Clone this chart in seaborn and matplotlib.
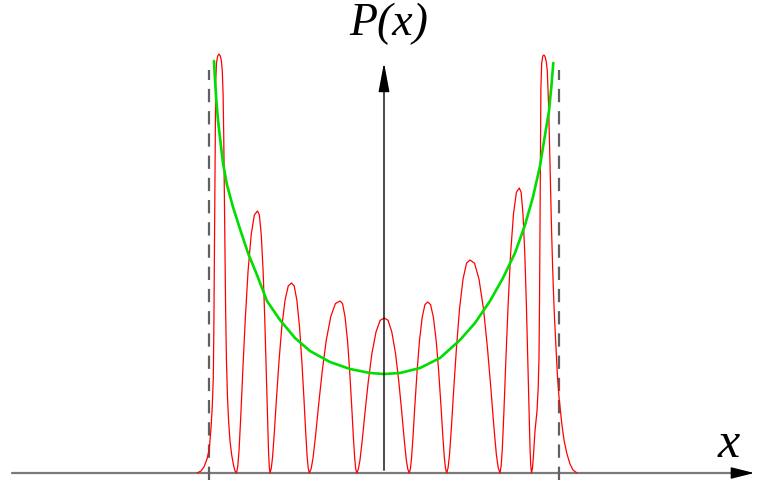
import numpy as np
import pandas as pd
import matplotlib
matplotlib.use("Agg")
import matplotlib.pyplot as plt
import seaborn as sns

# quantum probability density (red)
red_x = [
    # outer left lobe
    -1.870, -1.830, -1.800, -1.770, -1.747, -1.730, -1.718, -1.707, -1.701, -1.696,
    -1.691, -1.687, -1.683, -1.675, -1.663, -1.650, -1.637, -1.626, -1.617, -1.609,
    -1.603, -1.597, -1.591, -1.584, -1.576, -1.566, -1.554, -1.540, -1.523, -1.505,
    -1.490, -1.475,
    -1.4624, -1.4498, -1.433, -1.412, -1.3868, -1.3595, -1.328, -1.2965, -1.265,
    -1.2463, -1.2275, -1.2088, -1.1925, -1.1775, -1.165, -1.155, -1.1475, -1.140,
    -1.1271, -1.1142, -1.097, -1.0755, -1.0497, -1.0218, -0.9895, -0.9573, -0.925,
    -0.8983, -0.8716, -0.8449, -0.8218, -0.8004, -0.7826, -0.7684, -0.7577, -0.747,
    -0.7286, -0.7102, -0.6856, -0.6549, -0.6181, -0.5781, -0.5321, -0.486, -0.440,
    -0.415, -0.3899, -0.3648, -0.3431, -0.3231, -0.3064, -0.293, -0.283, -0.273,
    -0.2564, -0.2399, -0.2178, -0.1902, -0.1571, -0.1212, -0.0798, -0.0384, 0.003,
    0.0405, 0.078, 0.1155, 0.148, 0.178, 0.203, 0.223, 0.238, 0.253,
    0.264, 0.2751, 0.2898, 0.3082, 0.3303, 0.3542, 0.3818, 0.4094, 0.437,
    0.4655, 0.494, 0.5225, 0.5472, 0.570, 0.589, 0.6042, 0.6156, 0.627,
    0.641, 0.655, 0.6736, 0.6969, 0.7249, 0.7552, 0.7901, 0.8251, 0.860,
    0.905, 0.950, 0.995, 1.034, 1.070, 1.100, 1.124, 1.142, 1.160,
    1.1716, 1.1832, 1.1986, 1.2179, 1.2411, 1.2662, 1.2951, 1.3241, 1.353,
    1.3713, 1.3896, 1.4079, 1.4238, 1.4384, 1.4506, 1.4604, 1.4677, 1.475,
    # outer right lobe
    1.485, 1.493, 1.510, 1.530, 1.542, 1.550, 1.555, 1.560, 1.564, 1.569,
    1.577, 1.588, 1.600, 1.612, 1.623, 1.633, 1.645, 1.655, 1.665, 1.675,
    1.685, 1.695, 1.705, 1.715, 1.725, 1.735, 1.750, 1.777, 1.800, 1.827,
    1.860, 1.890, 1.930,
]
red_y = [
    0.00, 0.02, 0.06, 0.14, 0.24, 0.45, 0.65, 0.95, 1.50, 2.20,
    2.90, 3.50, 3.92, 4.10, 4.17, 4.19, 4.17, 4.12, 4.02, 3.78,
    3.40, 2.85, 2.25, 1.65, 1.15, 0.78, 0.52, 0.32, 0.18, 0.08,
    0.02, 0.00,
    0.0655, 0.2227, 0.5502, 1.0218, 1.5458, 2.0174, 2.3842, 2.5807, 2.620,
    2.5807, 2.3842, 2.0174, 1.5458, 1.0218, 0.5502, 0.2227, 0.0655, 0.000,
    0.0475, 0.1615, 0.399, 0.741, 1.121, 1.463, 1.729, 1.8715, 1.900,
    1.8715, 1.729, 1.463, 1.121, 0.741, 0.399, 0.1615, 0.0475, 0.000,
    0.043, 0.1462, 0.3612, 0.6708, 1.0148, 1.3244, 1.5652, 1.6942, 1.720,
    1.6942, 1.5652, 1.3244, 1.0148, 0.6708, 0.3612, 0.1462, 0.043, 0.000,
    0.0388, 0.1318, 0.3255, 0.6045, 0.9145, 1.1935, 1.4105, 1.5268, 1.550,
    1.5268, 1.4105, 1.1935, 0.9145, 0.6045, 0.3255, 0.1318, 0.0388, 0.000,
    0.0428, 0.1454, 0.3591, 0.6669, 1.0089, 1.3167, 1.5561, 1.6844, 1.710,
    1.6844, 1.5561, 1.3167, 1.0089, 0.6669, 0.3591, 0.1454, 0.0428, 0.000,
    0.0533, 0.1811, 0.4473, 0.8307, 1.2567, 1.6401, 1.9383, 2.098, 2.130,
    2.098, 1.9383, 1.6401, 1.2567, 0.8307, 0.4473, 0.1811, 0.0533, 0.000,
    0.0713, 0.2423, 0.5985, 1.1115, 1.6815, 2.1945, 2.5935, 2.8073, 2.850,
    2.8073, 2.5935, 2.1945, 1.6815, 1.1115, 0.5985, 0.2423, 0.0713, 0.000,
    0.05, 0.15, 0.42, 0.62, 0.85, 1.15, 1.70, 2.45, 3.20, 3.85,
    4.10, 4.17, 4.18, 4.16, 4.11, 4.02, 3.70, 3.30, 2.85, 2.45,
    2.10, 1.80, 1.55, 1.35, 1.15, 0.96, 0.76, 0.50, 0.33, 0.20,
    0.09, 0.03, 0.00,
]

# classical probability density (green)
green_x = [-1.700, -1.690, -1.677, -1.660, -1.640, -1.610, -1.570, -1.510, -1.440,
           -1.360, -1.270, -1.170, -1.040, -0.890, -0.740, -0.540, -0.340, -0.140,
           0.000, 0.160, 0.360, 0.560, 0.760, 0.910, 1.060, 1.190, 1.310,
           1.410, 1.490, 1.560, 1.610, 1.650, 1.675, 1.693]
green_y = [4.120, 3.930, 3.730, 3.530, 3.350, 3.100, 2.880, 2.660, 2.440,
           2.200, 1.980, 1.720, 1.530, 1.350, 1.220, 1.110, 1.040, 1.000,
           0.990, 1.000, 1.050, 1.150, 1.330, 1.500, 1.720, 1.950, 2.200,
           2.480, 2.760, 3.070, 3.380, 3.620, 3.880, 4.100]

# classical turning points
turning = [-1.747, 1.747]

red = pd.DataFrame({"x": red_x, "P": red_y})
green = pd.DataFrame({"x": green_x, "P": green_y})

sns.set_theme(style="white")
fig = plt.figure(figsize=(7.6, 4.81), dpi=100)
ax = fig.add_axes([0, 0, 1, 1])
ax.set_xlim(-3.84, 3.76)
ax.set_ylim(-0.07, 4.74)
ax.axis("off")

# horizontal axis
ax.plot([-3.72, 3.62], [0, 0], color="#7a7a7a", lw=1.6, zorder=1)
ax.annotate("", xy=(3.73, 0), xytext=(3.55, 0),
            arrowprops=dict(arrowstyle="-|>,head_length=0.8,head_width=0.2",
                            color="black", lw=1.0, mutation_scale=18))

# turning points
for xt in turning:
    ax.plot([xt, xt], [-0.07, 4.03], color="#606060", lw=1.6,
            ls=(0, (6, 4)), zorder=1)

sns.lineplot(data=red, x="x", y="P", sort=False, color="red", lw=0.9,
             ax=ax, zorder=3)
sns.lineplot(data=green, x="x", y="P", sort=False, color="#00dd00", lw=1.9,
             ax=ax, zorder=4)

# vertical axis
ax.annotate("", xy=(0, 4.13), xytext=(0, 0),
            arrowprops=dict(arrowstyle="-|>,head_length=0.9,head_width=0.17",
                            color="black", lw=1.0, mutation_scale=20),
            zorder=5)

ax.text(0.05, 4.39, "P(x)", ha="center", va="baseline", fontsize=33,
        family="Liberation Serif", style="italic", color="black")
ax.text(3.45, 0.17, "x", ha="center", va="baseline", fontsize=36,
        family="Liberation Serif", style="italic", color="black")

fig.savefig("out.png", dpi=100)
